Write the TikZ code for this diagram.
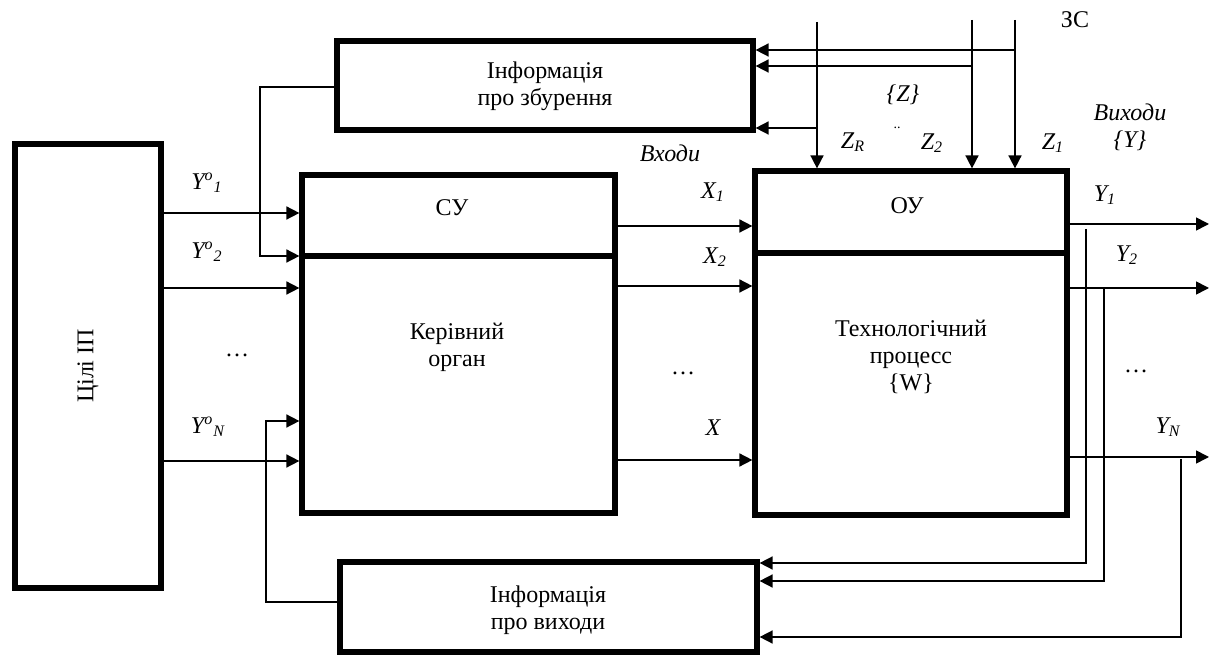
\documentclass[tikz,border=0pt]{standalone}
\usepackage{fontspec}
\setmainfont{Liberation Serif}
\usetikzlibrary{arrows.meta}
\begin{document}
\begin{tikzpicture}[x=0.5pt,y=-0.5pt,
  box/.style={draw,line width=2.6pt,inner sep=0pt,align=center},
  divider/.style={line width=2.6pt},
  conn/.style={line width=0.8pt},
  arr/.style={line width=0.8pt,-{Triangle[length=6.5pt,width=6.5pt]}},
  lbl/.style={font=\fontsize{12}{13.5}\selectfont\itshape,inner sep=0pt},
  txt/.style={font=\fontsize{12}{13.5}\selectfont,inner sep=0pt,align=center}]
\useasboundingbox (0,0) rectangle (1210,657);
\fontsize{12}{13.5}\selectfont
% boxes
\node[box,minimum width=73pt,minimum height=222pt] (goal) at (88,366) {};
\node[txt,rotate=90] (goaltxt) at (88,366) {Цілі ІП};
\node[box,minimum width=208pt,minimum height=44.5pt] (top) at (545,85.5) {};
\node[txt] (toptxt) at (545,86) {Інформація\\про збурення};
\node[box,minimum width=156.5pt,minimum height=169pt] (cy) at (458.5,344) {};
\node[box,minimum width=156pt,minimum height=172pt] (oy) at (911,343) {};
\node[box,minimum width=208.5pt,minimum height=45pt] (bot) at (548.5,607) {};
\node[txt] (bottxt) at (548,610) {Інформація\\про виходи};
% dividers
\draw[divider] (cy.west |- 0,256) -- (cy.east |- 0,256);
\draw[divider] (oy.west |- 0,253) -- (oy.east |- 0,253);
% box texts
\node[txt] (cyt) at (452,208) {СУ};
\node[txt] (cyb) at (457,347) {Керівний\\орган};
\node[txt] (oyt) at (907,206) {ОУ};
\node[txt,align=center] (oyb) at (911,357) {Технологічний\\процесс\\\{W\}};
% goals -> CY
\draw[arr] (goal.east |- 0,213) -- (cy.west |- 0,213);
\draw[arr] (goal.east |- 0,288) -- (cy.west |- 0,288);
\draw[arr] (goal.east |- 0,461) -- (cy.west |- 0,461);
\draw[arr] (top.west |- 0,87) -- (260,87) -- (260,256) -- (cy.west |- 0,256);
\draw[arr] (bot.west |- 0,602) -- (266,602) -- (266,421) -- (cy.west |- 0,421);
\node[lbl] (yo1) at (207,183) {Y\textsuperscript{o}\textsubscript{1}};
\node[lbl] (yo2) at (207,252) {Y\textsuperscript{o}\textsubscript{2}};
\node[lbl] (yon) at (208,427) {Y\textsuperscript{o}\textsubscript{N}};
\node[txt] (dl) at (237,355) {\dots};
% CY -> OY
\draw[arr] (cy.east |- 0,226) -- (oy.west |- 0,226);
\draw[arr] (cy.east |- 0,286) -- (oy.west |- 0,286);
\draw[arr] (cy.east |- 0,460) -- (oy.west |- 0,460);
\node[lbl] (vx) at (670,153) {Входи};
\node[lbl] (x1) at (713,192) {X\textsubscript{1}};
\node[lbl] (x2) at (715,257) {X\textsubscript{2}};
\node[lbl] (xn) at (713,428) {X};
\node[txt] (dm) at (683,373) {\dots};
% disturbances
\coordinate (zr) at (817,22);
\coordinate (z2) at (972,20);
\coordinate (z1) at (1015,20);
\draw[arr] (zr) -- (zr |- oy.north);
\draw[arr] (z2) -- (z2 |- oy.north);
\draw[arr] (z1) -- (z1 |- oy.north);
\draw[arr] (z1 |- 0,50) -- (top.east |- 0,50);
\draw[arr] (z2 |- 0,66) -- (top.east |- 0,66);
\draw[arr] (zr |- 0,128) -- (top.east |- 0,128);
\node[txt] (zs) at (1075,20) {ЗС};
\node[lbl] (zset) at (903,95) {\{Z\}};
\node[lbl] (zrl) at (853,142) {Z\textsubscript{R}};
\node[txt,font=\fontsize{7}{8}\selectfont] (zd) at (897,128) {..};
\node[lbl] (z2l) at (932,143) {Z\textsubscript{2}};
\node[lbl] (z1l) at (1053,143) {Z\textsubscript{1}};
\node[lbl,align=center] (vyh) at (1130,127) {Виходи\\\{Y\}};
% outputs
\coordinate (y1e) at (1209,224);
\coordinate (y2e) at (1209,288);
\coordinate (yne) at (1209,457);
\draw[arr] (oy.east |- y1e) -- (y1e);
\draw[arr] (oy.east |- y2e) -- (y2e);
\draw[arr] (oy.east |- yne) -- (yne);
\node[lbl] (y1) at (1105,195) {Y\textsubscript{1}};
\node[lbl] (y2) at (1127,255) {Y\textsubscript{2}};
\node[lbl] (yn) at (1168,427) {Y\textsubscript{N}};
\node[txt] (dr) at (1136,371) {\dots};
% feedback of outputs
\coordinate (f1) at (1086,229);
\coordinate (f2) at (1104,288);
\coordinate (f3) at (1181,459);
\draw[arr] (f1) -- (f1 |- 0,563) -- (bot.east |- 0,563);
\draw[arr] (f2) -- (f2 |- 0,581) -- (bot.east |- 0,581);
\draw[arr] (f3) -- (f3 |- 0,637) -- (bot.east |- 0,637);
\end{tikzpicture}
\end{document}
